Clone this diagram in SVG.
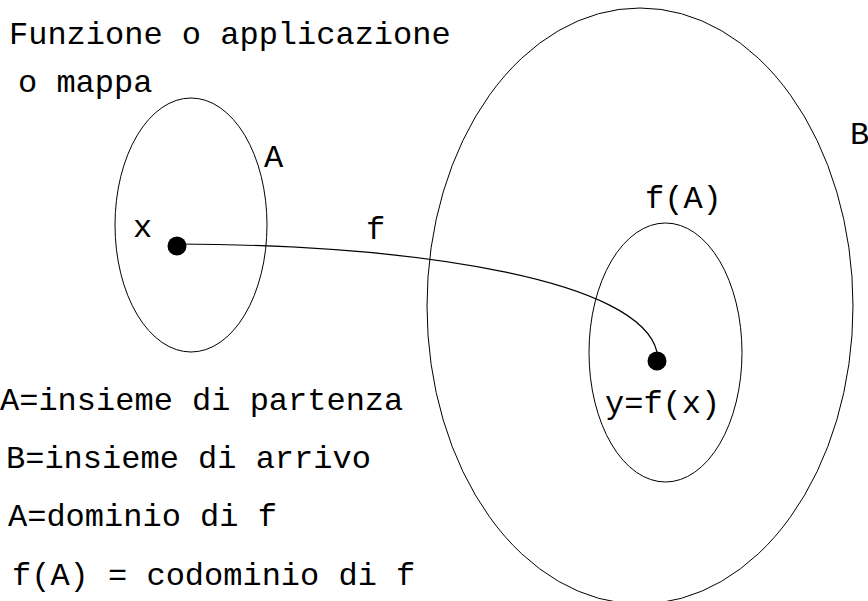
<svg xmlns="http://www.w3.org/2000/svg" width="868" height="601" viewBox="0 0 868 601">
<style>
.t{font-family:"Liberation Mono","Courier New",monospace;font-size:32px;fill:#000}
.e{fill:none;stroke:#000;stroke-width:1}
.c{fill:none;stroke:#000;stroke-width:1.2}
</style>
<rect width="868" height="601" fill="#fff"/>
<g id="title">
<text class="t" x="9" y="44">Funzione o applicazione</text>
<text class="t" x="18" y="92">o mappa</text>
</g>
<g id="setA">
<ellipse class="e" cx="191" cy="225" rx="76" ry="127"/>
<text class="t" x="264" y="167">A</text>
</g>
<g id="setB">
<ellipse class="e" cx="640" cy="306" rx="213" ry="298"/>
<text class="t" x="850" y="144">B</text>
</g>
<g id="imageFA">
<ellipse class="e" cx="665.5" cy="352.5" rx="76.5" ry="129.5"/>
<text class="t" x="645" y="208">f(A)</text>
</g>
<g id="pointX">
<circle cx="177" cy="246" r="9.5"/>
<text class="t" x="133" y="237">x</text>
</g>
<g id="pointY">
<circle cx="657" cy="361" r="9.5"/>
<text class="t" x="605" y="413">y=f(x)</text>
</g>
<g id="connectors">
<path class="c" d="M177,244 C420,245 640,280 657,352"/>
<text class="t" x="366" y="239">f</text>
</g>
<g id="legend">
<text class="t" x="0" y="410">A=insieme di partenza</text>
<text class="t" x="6" y="468">B=insieme di arrivo</text>
<text class="t" x="8" y="526">A=dominio di f</text>
<text class="t" x="12" y="585">f(A) = codominio di f</text>
</g>
</svg>
